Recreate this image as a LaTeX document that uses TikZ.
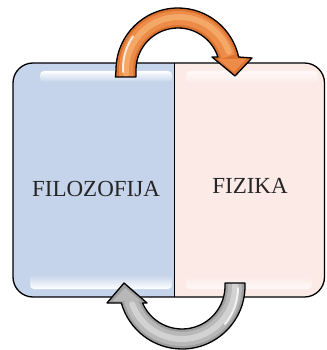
\documentclass[tikz,border=0pt]{standalone}
\usepackage{fontspec}
\setmainfont{Liberation Serif}
\usetikzlibrary{calc}
\definecolor{boxblue}{HTML}{C5D4EA}
\definecolor{boxpink}{HTML}{FBEAE6}
\definecolor{orA}{HTML}{DC7230}
\definecolor{orB}{HTML}{EC8C48}
\definecolor{orC}{HTML}{F4A868}
\definecolor{grA}{HTML}{9E9E9E}
\definecolor{grB}{HTML}{B8B8B8}
\definecolor{grC}{HTML}{D2D2D2}
\tikzset{
  outline/.style={draw=black, line width=1.3pt, line join=round},
  label/.style={font=\fontsize{23}{27}\selectfont, text=black!85, inner sep=0pt},
}
\begin{document}
\begin{tikzpicture}[x=1pt, y=-1pt]
\useasboundingbox (0,0) rectangle (326,350);
% box
\begin{scope}
  \clip[rounded corners=20pt] (13,63) rectangle (324.5,297);
  \fill[boxblue] (13,63) rectangle (174,297);
  \fill[boxpink] (174,63) rectangle (324.5,297);
  \shade[rounded corners=4pt, top color=white, bottom color=boxblue] (40,71) rectangle (172,82);
  \shade[rounded corners=4pt, top color=white!70!boxpink, bottom color=boxpink] (186,71) rectangle (318,84);
  \shade[rounded corners=4pt, bottom color=white, top color=boxblue] (30,275) rectangle (172,289);
  \shade[rounded corners=4pt, bottom color=white!70!boxpink, top color=boxpink] (186,276) rectangle (312,289);
\end{scope}
\draw[line width=1pt] (174,63) -- (174,297);
\draw[outline, rounded corners=20pt] (13,63) rectangle (324.5,297);
\node[label] (filo) at (96,189) {FILOZOFIJA};
\node[label] (fiz) at (250,186) {FIZIKA};
% top arrow (orange)
\coordinate (C) at (178,70);
\def\toparrow{(115.5,77) -- (116,70) arc[start angle=180, end angle=347.9, radius=62]
  -- (252,58) -- (235,76) -- (212,57) -- ($(C)+(342:42)$)
  arc[start angle=342, end angle=180, radius=42] -- (136,77) -- cycle}
\fill[orA] \toparrow;
\begin{scope}
  \clip \toparrow;
  \draw[orB, line width=14pt] (126,78) -- (126,70) arc[start angle=180, end angle=345, radius=52];
  \draw[orC, line width=6pt, line cap=round] (126,74) -- (126,70) arc[start angle=180, end angle=340, radius=53];
  \draw[white, opacity=0.8, line width=2pt, line cap=round] (123,72) -- (123,68) arc[start angle=180, end angle=215, radius=55];
  \fill[orB] (218,59) -- (246,59) -- (234,72) -- cycle;
\end{scope}
\draw[outline] \toparrow;
% bottom arrow (gray)
\coordinate (D) at (182,286);
\def\botarrow{(245,283) -- (245,286) arc[start angle=0, end angle=164.35, radius=63]
  -- (107,303) -- (124,283) -- (147,303) -- ($(D)+(156.7:43)$)
  arc[start angle=156.7, end angle=0, radius=43] -- (225,283) -- cycle}
\fill[grA] \botarrow;
\begin{scope}
  \clip \botarrow;
  \draw[grB, line width=14pt] (235,280) -- (235,286) arc[start angle=0, end angle=165, radius=53];
  \draw[grC, line width=6pt, line cap=round] (235,284) -- (235,286) arc[start angle=0, end angle=160, radius=53];
  \draw[white, opacity=0.8, line width=2pt, line cap=round] (238,288) arc[start angle=0, end angle=40, radius=56];
  \fill[grB] (113,301) -- (141,301) -- (125,288) -- cycle;
\end{scope}
\draw[outline] \botarrow;
\end{tikzpicture}
\end{document}
